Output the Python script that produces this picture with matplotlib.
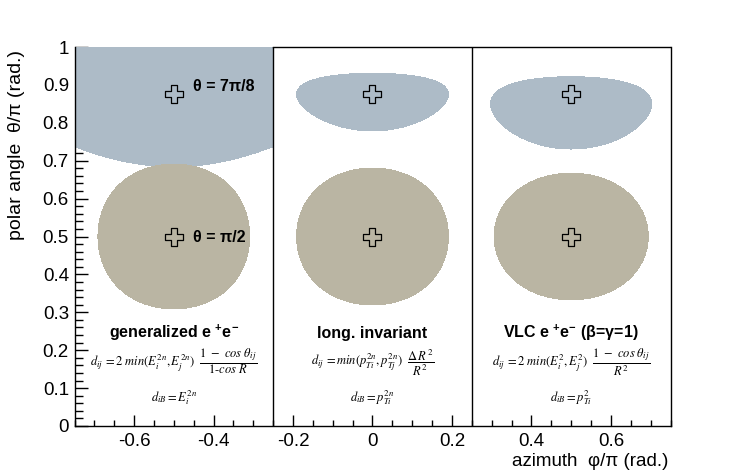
import matplotlib
matplotlib.use("Agg")
import matplotlib.pyplot as plt
import numpy as np
from matplotlib.path import Path

plt.rcParams["font.family"] = ["Liberation Sans", "DejaVu Sans"]
plt.rcParams["mathtext.fontset"] = "custom"
plt.rcParams["mathtext.rm"] = "Liberation Sans"
plt.rcParams["mathtext.bf"] = "Liberation Sans:bold"
plt.rcParams["mathtext.it"] = "Liberation Sans:italic"

# jet axes (phi/pi, theta/pi) and clustering radius
jet_phi = [-0.5, 0.0, 0.5]
jet_theta = [0.875, 0.5]
R = 0.6
panel_edges = [-0.75, -0.25, 0.25, 0.75]
panel_titles = [r"generalized e $^{\mathbf{+}}$e$^{\mathbf{-}}$",
                "long. invariant",
                r"VLC e $^{\mathbf{+}}$e$^{\mathbf{-}}$ (β=γ=1)"]
dij_labels = [r"$d_{ij}\, = 2\ min(E_i^{2n},E_j^{2n})\ \ \dfrac{1\ -\ cos\ \theta_{ij}}{1\text{-}cos\ R}$",
              r"$d_{ij}\, = min(p_{Ti}^{2n},p_{Tj}^{2n})\ \ \dfrac{\Delta\, R^2}{R^2}$",
              r"$d_{ij}\, = 2\ min(E_i^{2},E_j^{2})\ \ \dfrac{1\ -\ cos\ \theta_{ij}}{R^2}$"]
diB_labels = [r"$d_{iB} = E_i^{2n}$", r"$d_{iB} = p_{Ti}^{2n}$", r"$d_{iB} = p_{Ti}^{2}$"]
theta_labels = [r"θ = 7π/8", r"θ = π/2"]
fill_colors = ["#adbbc7", "#bab5a3"]


def cos_angle(p1, t1, p2, t2):
    return np.cos(t1) * np.cos(t2) + np.sin(t1) * np.sin(t2) * np.cos(p1 - p2)


def eta(t):
    return -np.log(np.tan(t / 2))


def measure(kind, P, T, p0, t0):
    """negative inside the region that clusters with the jet axis."""
    if kind == 0:
        return (1 - cos_angle(P, T, p0, t0)) / (1 - np.cos(R)) - 1
    if kind == 1:
        dphi = np.angle(np.exp(1j * (P - p0)))
        return ((eta(T) - eta(t0)) ** 2 + dphi ** 2) / R ** 2 - 1
    return 2 * (1 - cos_angle(P, T, p0, t0)) / (R ** 2 * np.sin(T) ** 2) - 1


fig = plt.figure(figsize=(7.46, 4.74), dpi=100)
ax = fig.add_axes([74.5 / 746, 48 / 474, 596 / 746, 379 / 474])

cross = Path([(-1/3, 1), (1/3, 1), (1/3, 1/3), (1, 1/3), (1, -1/3), (1/3, -1/3),
              (1/3, -1), (-1/3, -1), (-1/3, -1/3), (-1, -1/3), (-1, 1/3),
              (-1/3, 1/3), (-1/3, 1)], closed=True)

ty = np.linspace(0.0005, 0.9995, 900)
for k in range(3):
    tx = np.linspace(panel_edges[k], panel_edges[k + 1], 500)
    X, Y = np.meshgrid(tx, ty)
    for t0, col in zip(jet_theta, fill_colors):
        f = measure(k, X * np.pi, Y * np.pi, jet_phi[k] * np.pi, t0 * np.pi)
        ax.contourf(X, Y, f, levels=[-1e9, 0], colors=[col], zorder=2,
                    antialiased=False)
        ax.plot(jet_phi[k], t0, marker=cross, ms=12.5, mfc="none", mec="black",
                mew=0.9, ls="none", zorder=4)
    xc = jet_phi[k]
    ax.text(xc, 0.232, panel_titles[k], ha="center", va="baseline",
            fontsize=11.5, fontweight="bold", zorder=5)
    ax.text(xc, 0.160, dij_labels[k], ha="center", va="baseline", fontsize=9,
            math_fontfamily="stix", zorder=5)
    ax.text(xc, 0.065, diB_labels[k], ha="center", va="baseline", fontsize=9,
            math_fontfamily="stix", zorder=5)

ax.text(-0.452, 0.884, theta_labels[0], ha="left", va="baseline", fontsize=11.5,
        fontweight="bold", zorder=5)
ax.text(-0.452, 0.486, theta_labels[1], ha="left", va="baseline", fontsize=11.5,
        fontweight="bold", zorder=5)

for xe in panel_edges[1:3]:
    ax.axvline(xe, color="black", lw=1, zorder=3)

ax.set_xlim(-0.75, 0.75)
ax.set_ylim(0, 1)
ax.set_xticks([-0.6, -0.4, -0.2, 0, 0.2, 0.4, 0.6])
ax.set_xticklabels(["-0.6", "-0.4", "-0.2", "0", "0.2", "0.4", "0.6"])
ax.set_xticks(np.arange(-0.75, 0.76, 0.05), minor=True)
ax.set_yticks(np.arange(0, 1.01, 0.1))
ax.set_yticklabels(["0", "0.1", "0.2", "0.3", "0.4", "0.5", "0.6", "0.7",
                    "0.8", "0.9", "1"])
ax.set_yticks(np.arange(0, 1.001, 0.02), minor=True)
ax.tick_params(which="both", direction="in", top=False, right=False,
               labelsize=13.5, width=1)
ax.tick_params(axis="x", which="major", length=7.7, pad=5)
ax.tick_params(axis="x", which="minor", length=4)
ax.tick_params(axis="y", which="major", length=9.5, pad=4)
ax.tick_params(axis="y", which="minor", length=5.5)
for sp in ax.spines.values():
    sp.set_linewidth(1)
    sp.set_zorder(3)
ax.spines["top"].set_bounds(-0.25, 0.75)

fig.text(17 / 746, 1 - 50 / 474, "polar angle  θ/π (rad.)", rotation=90,
         ha="center", va="top", fontsize=14)
fig.text(668 / 746, 1 - 466 / 474, "azimuth  φ/π (rad.)", ha="right",
         va="baseline", fontsize=13.5)

fig.savefig("out.png", dpi=100)
